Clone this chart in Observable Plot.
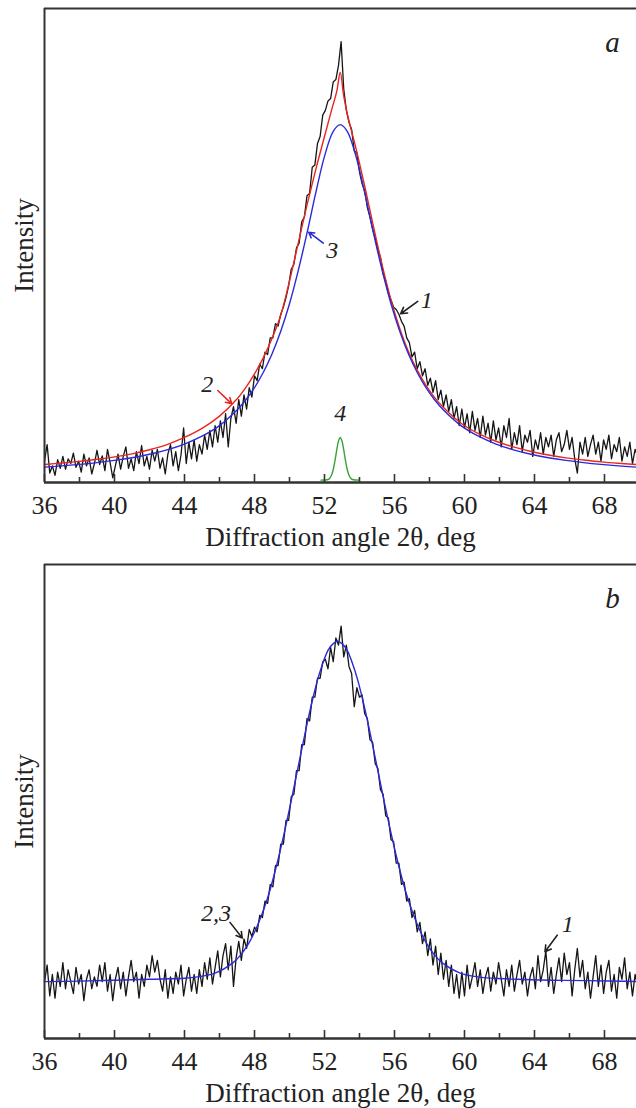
<!DOCTYPE html>
<html><head><meta charset="utf-8">
<script src="https://cdn.jsdelivr.net/npm/d3@7"></script>
<script src="https://cdn.jsdelivr.net/npm/@observablehq/plot@0.6"></script>
<style>body{margin:0;background:#fff}svg{display:block}</style>
</head><body><div id="chart"></div>
<script>
// ---- data ----
const xTickLabels = [36, 40, 44, 48, 52, 56, 60, 64, 68];
const xMinorTicks = [38, 42, 46, 50, 54, 58, 62, 66];
const gridStart = 36, gridStep = 0.15; // measured diffraction pattern grid (deg)
const xTitle = "Diffraction angle 2θ, deg";
const yTitle = "Intensity";

// panel a: measured pattern (curve 1)
const aBlack = [
 4.5, 8.0, 2.0, 3.5, 1.5, 4.8, 3.0, 5.5, 2.8, 5.0,
 4.0, 6.2, 3.2, 4.5, 2.2, 6.0, 3.5, 5.2, 1.8, 4.0,
 6.8, 3.8, 5.6, 2.5, 7.0, 4.2, 1.0, 3.5, 6.0, 2.8,
 5.5, 7.5, 3.0, 5.0, 2.5, 6.5, 4.0, 7.8, 3.5, 5.5,
 2.8, 6.8, 4.5, 7.0, 3.0, 5.2, 1.8, 6.0, 8.0, 3.5,
 6.5, 2.5, 5.8, 11.5, 4.0, 8.5, 5.0, 9.0, 4.5, 8.0,
 6.0, 10.0, 7.0, 11.0, 7.5, 12.0, 8.5, 13.0, 9.5, 14.5,
 7.5, 13.5, 16.0, 12.5, 17.5, 14.0, 18.5, 15.5, 20.0, 18.0,
 22.5, 21.5, 25.0, 24.0, 27.5, 27.0, 30.5, 30.5, 33.5, 33.0,
 35.5, 37.0, 39.0, 41.5, 45.0, 46.0, 49.5, 50.5, 55.0, 56.0,
 60.5, 61.0, 66.5, 67.0, 71.5, 73.0, 77.5, 78.5, 80.5, 81.0,
 84.5, 85.0, 88.0, 93.0, 83.0, 78.5, 76.0, 74.5, 70.0, 69.5,
 65.5, 63.0, 61.5, 58.0, 56.0, 53.5, 51.5, 49.0, 47.5, 44.0,
 42.5, 40.0, 38.5, 37.0, 36.5, 35.5, 34.0, 33.0, 30.5, 29.5,
 26.5, 27.5, 24.0, 25.5, 22.5, 24.0, 20.5, 22.0, 19.0, 21.5,
 17.5, 19.5, 16.0, 18.5, 15.0, 17.5, 13.5, 16.0, 12.0, 15.5,
 11.5, 14.5, 10.5, 15.0, 11.0, 13.5, 9.5, 14.0, 10.0, 12.5,
 8.5, 13.0, 9.0, 11.5, 7.5, 12.0, 9.5, 13.5, 7.0, 10.5,
 8.0, 12.0, 6.5, 10.0, 8.5, 11.0, 5.5, 9.0, 7.0, 10.5,
 6.0, 9.5, 7.5, 10.0, 5.5, 9.0, 10.5, 6.5, 8.0, 11.0,
 7.0, 9.5, 5.0, 2.0, 8.5, 6.0, 9.5, 5.5, 8.0, 10.0,
 6.0, 8.5, 4.5, 9.0, 7.0, 10.0, 5.0, 8.0, 6.5, 9.5,
 4.5, 7.5, 5.5, 8.5, 4.0, 7.0, 5.5
];
// panel a: fit 2 (red)
const aRed = [
 [36,3.8],[37,4.1],[38,4.45],[39,4.9],[40,5.4],[41,6.05],[42,6.9],[43,8.0],[44,9.5],[45,11.4],
 [46,14.0],[47,17.6],[47.5,20.0],[48,22.9],[48.5,26.3],[49,30.4],[49.5,35.3],[50,42.5],[50.5,50.5],
 [51,58.5],[51.5,66],[52,73],[52.4,78.5],[52.7,82.5],[52.9,86.5],[53.1,81.5],[53.35,77],[53.8,70.5],
 [54.3,62.5],[54.8,54],[55.3,45.8],[55.8,38.5],[56.3,32.5],[56.8,27.6],[57.3,23.7],[57.8,20.5],
 [58.3,17.9],[58.8,15.8],[59.8,12.5],[60.8,10.3],[61.8,8.7],[62.8,7.5],[63.8,6.55],[64.8,5.8],
 [65.8,5.2],[66.8,4.75],[67.8,4.35],[68.8,4.05],[69.8,3.8],[70,3.75]
];
// panel a: fit 3 (blue)
const aBlue = [
 [36,3.25],[37,3.5],[38,3.82],[39,4.2],[40,4.66],[41,5.23],[42,5.95],[43,6.89],[44,8.11],[45,9.76],
 [46,12.0],[47,15.3],[47.5,17.4],[48,20.0],[48.5,23.2],[49,27.1],[49.5,31.9],[50,37.7],[50.5,44.7],
 [51,52.6],[51.5,61.1],[52,68.8],[52.5,74.1],[52.9,75.5],[53.3,74.1],[53.8,68.8],[54.3,61.1],
 [54.8,52.6],[55.3,44.7],[55.8,37.7],[56.3,31.9],[56.8,27.1],[57.3,23.2],[57.8,20.0],[58.3,17.4],
 [58.8,15.3],[59.8,12.0],[60.8,9.76],[61.8,8.11],[62.8,6.89],[63.8,5.95],[64.8,5.23],[65.8,4.66],
 [66.8,4.2],[67.8,3.82],[68.8,3.51],[69.8,3.25],[70,3.21]
];
// panel a: instrumental line 4 (green)
const aGreen = [
 [51.8,0.5],[52.2,0.63],[52.3,0.9],[52.4,1.53],[52.5,2.74],[52.6,4.62],[52.7,6.86],[52.8,8.75],
 [52.9,9.5],[53.0,8.75],[53.1,6.86],[53.2,4.62],[53.3,2.74],[53.4,1.53],[53.5,0.9],[53.6,0.63],[54.0,0.5]
];
const aNotes = [
 {label: "1", x: 57.85, y: 38.4}, {label: "2", x: 45.3, y: 20.8},
 {label: "3", x: 52.45, y: 48.9}, {label: "4", x: 52.9, y: 14.5}
];
const aArrows = [
 {x1: 57.33, y1: 38.2, x2: 56.35, y2: 35.6, color: "#222"},
 {x1: 51.93, y1: 50.5, x2: 51.1, y2: 52.8, color: "#2a2ad8"},
 {x1: 45.9, y1: 19.4, x2: 46.7, y2: 16.6, color: "#e8261e"}
];

// panel b: measured pattern (curve 1)
const bBlack = [
 12.0, 15.5, 9.0, 13.5, 8.5, 14.0, 11.0, 16.0, 10.5, 14.5,
 12.0, 9.5, 15.0, 11.5, 13.5, 8.0, 12.5, 14.5, 10.5, 13.0,
 11.0, 15.5, 12.0, 16.0, 10.0, 13.5, 8.0, 12.5, 15.0, 10.5,
 14.0, 9.0, 13.0, 16.5, 12.0, 14.0, 8.5, 13.5, 11.0, 15.5,
 13.0, 17.5, 14.0, 16.5, 12.5, 10.0, 14.5, 8.5, 13.0, 9.5,
 14.0, 11.5, 15.5, 9.0, 12.5, 15.0, 10.0, 13.5, 9.5, 14.5,
 11.0, 16.0, 12.5, 17.0, 11.5, 15.0, 18.5, 13.0, 17.5, 20.0,
 14.5, 19.5, 11.0, 17.0, 20.5, 16.5, 21.0, 19.0, 23.0, 21.5,
 23.5, 22.5, 26.0, 25.5, 29.0, 28.5, 32.5, 32.0, 36.5, 36.5,
 41.0, 41.0, 46.0, 46.0, 51.0, 51.5, 56.5, 56.5, 62.0, 62.0,
 67.5, 67.0, 72.0, 72.0, 76.0, 76.0, 79.5, 80.0, 78.0, 82.5,
 79.5, 84.5, 83.0, 87.0, 80.5, 83.0, 78.5, 77.0, 70.0, 74.0,
 72.0, 72.5, 68.5, 67.5, 63.0, 62.5, 58.0, 57.0, 52.5, 51.5,
 47.0, 46.5, 42.0, 41.5, 37.0, 37.0, 32.5, 33.0, 29.0, 29.5,
 25.5, 27.0, 22.5, 24.5, 20.0, 22.5, 17.5, 21.0, 15.5, 19.5,
 13.5, 18.0, 12.5, 16.5, 11.0, 15.5, 9.5, 13.5, 8.5, 14.0,
 9.0, 15.5, 10.5, 13.0, 16.0, 11.0, 14.5, 9.5, 13.0, 15.0,
 10.0, 14.0, 11.5, 16.0, 12.5, 9.0, 14.5, 11.0, 15.5, 10.0,
 13.5, 16.5, 11.5, 14.0, 9.0, 13.0, 15.0, 10.5, 17.5, 12.0,
 14.5, 18.5, 11.0, 15.0, 9.5, 13.5, 17.0, 12.0, 18.0, 13.5,
 16.0, 9.0, 14.5, 19.0, 13.0, 16.5, 10.5, 14.0, 8.5, 13.0,
 17.5, 11.0, 15.5, 9.5, 14.0, 16.5, 10.0, 13.5, 8.5, 15.0,
 12.5, 17.0, 10.5, 14.0, 9.0, 13.5, 11.0
];
// panel b: fits 2 and 3 (coincide, blue)
const bBlue = [
 [36,12.0],[38,12.1],[40,12.3],[42,12.5],[44,12.7],[44.75,13.0],[45.75,13.8],[46.75,15.9],[47.25,17.8],
 [47.75,20.6],[48,22.4],[48.3,25.0],[48.6,28.0],[48.9,31.5],[49.2,35.6],[49.5,40.1],[49.8,45.0],
 [50.1,50.2],[50.4,55.6],[50.7,61.0],[51.0,66.3],[51.3,71.2],[51.6,75.6],[51.9,79.1],[52.2,81.9],
 [52.5,83.3],[52.75,83.8],[53.0,83.3],[53.3,81.9],[53.6,79.1],[53.9,75.6],[54.2,71.2],[54.5,66.3],
 [54.8,61.0],[55.1,55.6],[55.4,50.2],[55.7,45.0],[56.0,40.1],[56.3,35.6],[56.6,31.5],[56.9,28.0],
 [57.2,25.0],[57.5,22.4],[57.75,20.6],[58.25,17.8],[58.75,15.9],[59.75,13.8],[60.75,13.0],
 [61.75,12.7],[63,12.5],[65,12.3],[67,12.2],[70,12.0]
];
const bNotes = [
 {label: "2,3", x: 45.8, y: 26.5}, {label: "1", x: 65.9, y: 24.0}
];
const bArrows = [
 {x1: 46.6, y1: 24.5, x2: 47.3, y2: 21.2, color: "#222"},
 {x1: 65.3, y1: 21.8, x2: 64.6, y2: 18.3, color: "#222"}
];

// ---- drawing ----
const FONT = "'Liberation Serif', 'Times New Roman', serif";
const FRAME = "#333";
const RED = "#e8261e", BLUE = "#2a2ad8", GREEN = "#3aa03a", INK = "#151515";

function panel({black, fits, arrows, notes, letter, mt, mb}) {
  const pts = black.map((v, i) => ({x: gridStart + i * gridStep, y: v}));
  const plotH = 554 - mt - mb;
  return Plot.plot({
    width: 636, height: 554,
    marginLeft: 44, marginRight: 0, marginTop: mt, marginBottom: mb,
    x: {domain: [36, 69.83], axis: null},
    y: {domain: [0, 100], axis: null},
    color: {type: "identity"},
    style: {fontFamily: FONT, background: "white", overflow: "visible", color: "#222"},
    marks: [
      Plot.line(pts, {x: "x", y: "y", stroke: INK, strokeWidth: 1.3}),
      ...fits.map(f => Plot.line(f.data, {x: d => d[0], y: d => d[1], stroke: f.color, strokeWidth: 1.4, curve: "catmull-rom"})),
      Plot.ruleX(xTickLabels, {x: d => d, insetTop: plotH - 8, stroke: FRAME, strokeWidth: 1.6}),
      Plot.ruleX(xMinorTicks, {x: d => d, insetTop: plotH - 5, stroke: FRAME, strokeWidth: 1.6}),
      Plot.ruleY([0], {stroke: FRAME, strokeWidth: 2.5}),
      Plot.ruleY([100], {stroke: FRAME, strokeWidth: 2}),
      Plot.ruleX([36], {stroke: FRAME, strokeWidth: 2}),
      Plot.text(xTickLabels, {x: d => d, frameAnchor: "bottom", lineAnchor: "middle", dy: 23, text: d => String(d), fontSize: 26, fill: "#222"}),
      Plot.text([xTitle], {frameAnchor: "bottom", lineAnchor: "middle", textAnchor: "middle", dy: 55, text: d => d, fontSize: 27, fill: "#222"}),
      Plot.text([yTitle], {frameAnchor: "left", textAnchor: "middle", lineAnchor: "middle", dx: -20, rotate: -90, text: d => d, fontSize: 27, fill: "#222"}),
      Plot.text([letter], {frameAnchor: "top-right", textAnchor: "middle", lineAnchor: "middle", dx: -24, dy: 34, text: d => d, fontStyle: "italic", fontSize: 29, fill: "#222"}),
      Plot.arrow(arrows, {x1: "x1", y1: "y1", x2: "x2", y2: "y2", stroke: "color", strokeWidth: 1.6, headLength: 7}),
      Plot.text(notes, {x: "x", y: "y", text: "label", fontStyle: "italic", fontSize: 24, fill: "#222"})
    ]
  });
}

const root = document.getElementById("chart");
root.append(panel({
  black: aBlack,
  fits: [{data: aRed, color: RED}, {data: aBlue, color: BLUE}, {data: aGreen, color: GREEN}],
  arrows: aArrows, notes: aNotes, letter: "a", mt: 8, mb: 72
}));
root.append(panel({
  black: bBlack,
  fits: [{data: bBlue, color: BLUE}],
  arrows: bArrows, notes: bNotes, letter: "b", mt: 10, mb: 70
}));
</script></body></html>
